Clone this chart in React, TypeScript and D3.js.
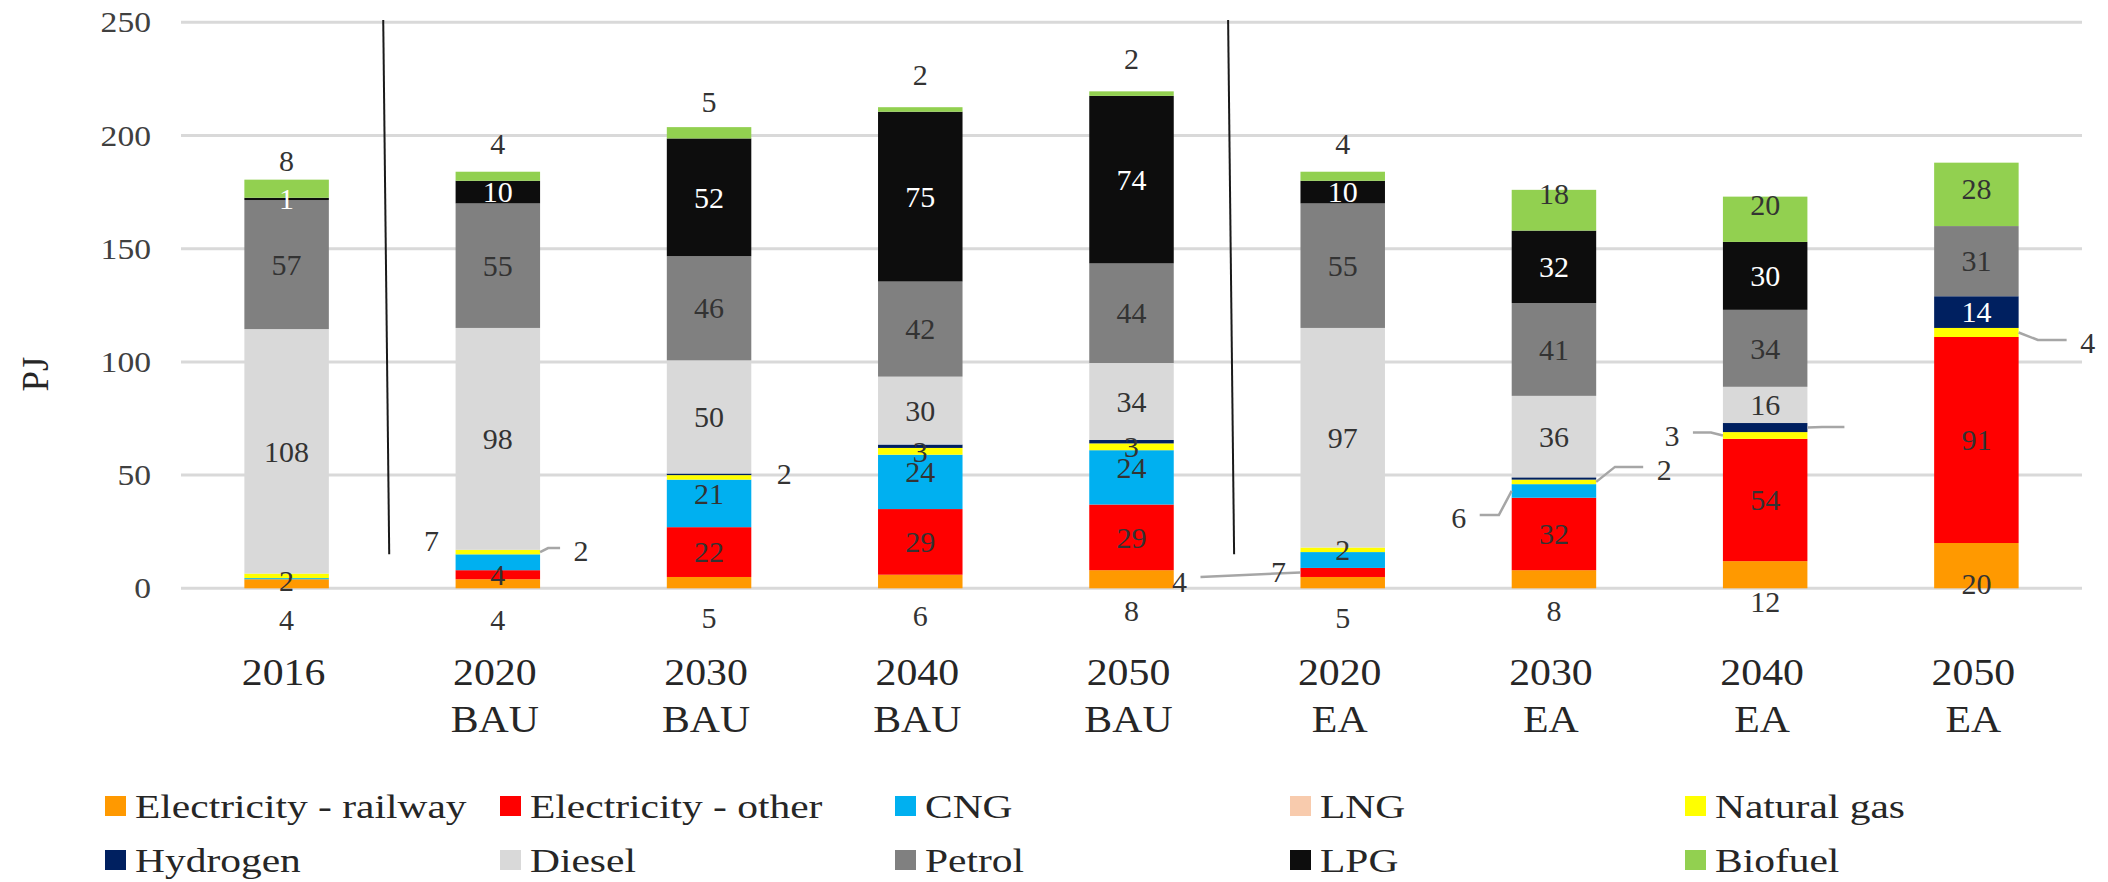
import React from "react";
import * as d3 from "d3";

// Category axis: year on the first line, scenario on the second
const years = ["2016", "2020", "2030", "2040", "2050", "2020", "2030", "2040", "2050"];
const scenarios = ["", "BAU", "BAU", "BAU", "BAU", "EA", "EA", "EA", "EA"];

// Final energy demand by carrier, PJ
const railway = [4, 4, 5, 6, 8, 5, 8, 12, 20];
const electricityOther = [0, 4, 22, 29, 29, 4, 32, 54, 91];
const cng = [0.5, 7, 21, 24, 24, 7, 6, 0, 0];
const lng = [0, 0, 0, 0, 0, 0, 0, 0, 0];
const naturalGas = [2, 2, 2, 3, 3, 2, 2, 3, 4];
const hydrogen = [0, 0, 0.7, 1.5, 1.5, 0, 1, 4, 14];
const diesel = [108, 98, 50, 30, 34, 97, 36, 16, 0];
const petrol = [57, 55, 46, 42, 44, 55, 41, 34, 31];
const lpg = [1, 10, 52, 75, 74, 10, 32, 30, 0];
const biofuel = [8, 4, 5, 2, 2, 4, 18, 20, 28];

const seriesNames = [
  "Electricity - railway",
  "Electricity - other",
  "CNG",
  "LNG",
  "Natural gas",
  "Hydrogen",
  "Diesel",
  "Petrol",
  "LPG",
  "Biofuel",
];
const seriesValues = [railway, electricityOther, cng, lng, naturalGas, hydrogen, diesel, petrol, lpg, biofuel];
const seriesColors = [
  "#FF9900",
  "#FF0000",
  "#00B0F0",
  "#F8CBAD",
  "#FFFF00",
  "#002060",
  "#D9D9D9",
  "#808080",
  "#0D0D0D",
  "#92D050",
];
const yTicks = [0, 50, 100, 150, 200, 250];

const categories = years.map((yr, i) => (scenarios[i] ? `${yr} ${scenarios[i]}` : yr));

// Labels moved off their segment (offsets in px from the bar edge / segment middle)
type Callout = {
  cat: number;
  series: string;
  side: "left" | "right" | "inside";
  dx: number;
  dy: number;
  leader: "none" | "elbow" | "straight";
};
const callouts: Callout[] = [
  { cat: 0, series: "Natural gas", side: "inside", dx: 0, dy: 5, leader: "none" },
  { cat: 1, series: "CNG", side: "left", dx: -24, dy: -21, leader: "none" },
  { cat: 1, series: "Natural gas", side: "right", dx: 41, dy: -1, leader: "elbow" },
  { cat: 2, series: "Natural gas", side: "right", dx: 33, dy: -4, leader: "none" },
  { cat: 5, series: "Electricity - other", side: "left", dx: -121, dy: 9.5, leader: "straight" },
  { cat: 5, series: "CNG", side: "left", dx: -22, dy: 12, leader: "none" },
  { cat: 6, series: "CNG", side: "left", dx: -53, dy: 27, leader: "elbow" },
  { cat: 6, series: "Natural gas", side: "right", dx: 68, dy: -12, leader: "elbow" },
  { cat: 7, series: "Natural gas", side: "left", dx: -51, dy: 0, leader: "elbow" },
  { cat: 7, series: "Hydrogen", side: "right", dx: 58, dy: 2.5, leader: "elbow" },
  { cat: 8, series: "Natural gas", side: "right", dx: 69, dy: 10.5, leader: "elbow" },
];

const W = 2108;
const H = 882;
const FONT = "'Liberation Serif', 'Times New Roman', serif";

export default function App() {
  const y = d3.scaleLinear().domain([0, 250]).range([588.3, 22.3]);
  const x = d3
    .scaleBand<string>()
    .domain(categories)
    .range([181, 2082])
    .paddingInner(0.6)
    .paddingOuter(0.3);
  const bw = x.bandwidth();

  const rows = categories.map((c, i) => {
    const r: Record<string, number | string> = { category: c };
    seriesNames.forEach((s, si) => (r[s] = seriesValues[si][i]));
    return r;
  });
  const stacked = d3.stack<Record<string, number | string>>().keys(seriesNames)(rows as any);

  const labelFont = 30;
  const labels: React.ReactNode[] = [];
  const leaders: React.ReactNode[] = [];

  stacked.forEach((layer, si) => {
    const name = seriesNames[si];
    layer.forEach((seg, ci) => {
      const v = seriesValues[si][ci];
      const show = v >= 1 && !(name === "Hydrogen" && v < 2);
      if (!show) return;
      const yLow = y(seg[0]);
      const yHigh = y(seg[1]);
      const left = x(categories[ci])!;
      const right = left + bw;
      const cx = left + bw / 2;
      const mid = (yLow + yHigh) / 2;
      let lx = cx;
      let ly = mid;
      if (name === "Electricity - railway") ly = yHigh + 41;
      else if (name === "Biofuel") ly = yLow - 37;
      else if (name === "CNG") ly = mid - 10;

      const co = callouts.find((c) => c.cat === ci && c.series === name);
      if (co) {
        ly = mid + co.dy;
        if (co.side === "inside") lx = cx + co.dx;
        else if (co.side === "left") lx = left + co.dx;
        else lx = right + co.dx;

        if (co.leader !== "none") {
          const edge = co.side === "left" ? left : right;
          const dir = co.side === "left" ? -1 : 1;
          const end = lx - dir * 21;
          const span = Math.abs(end - edge);
          let pts: [number, number][];
          if (co.leader === "straight") {
            pts = [
              [edge, mid],
              [end, ly - 5],
            ];
          } else {
            const e = Math.min(22, span * 0.4);
            pts = [
              [edge, mid],
              [edge + dir * e, ly - 3],
              [end, ly - 3],
            ];
          }
          leaders.push(
            <path
              key={`ld-${ci}-${si}`}
              d={d3.line()(pts) || ""}
              fill="none"
              stroke="#A6A6A6"
              strokeWidth={2.5}
            />
          );
        }
      }
      const white = name === "LPG" || name === "Hydrogen";
      labels.push(
        <text
          key={`lb-${ci}-${si}`}
          x={lx}
          y={ly + labelFont * 0.34}
          textAnchor="middle"
          fontFamily={FONT}
          fontSize={labelFont}
          fill={white ? "#FFFFFF" : "#333333"}
        >
          {Math.round(v)}
        </text>
      );
    });
  });

  // Scenario separators between the base year, BAU and EA groups
  const step = x.step();
  const separators = [1, 5].map((i) => {
    const bx = x(categories[i])! - (step - bw) / 2;
    return (
      <line
        key={`sep-${i}`}
        x1={bx - 9}
        y1={y(251)}
        x2={bx - 3}
        y2={y(15)}
        stroke="#1A1A1A"
        strokeWidth={2}
      />
    );
  });

  const legendCols = 5;
  const legendX0 = 105;
  const legendDX = 395;
  const legendRowY = [806, 860];

  return (
    <svg
      width={W}
      height={H}
      viewBox={`0 0 ${W} ${H}`}
      style={{ position: "absolute", left: 0, top: 0, background: "#FFFFFF" }}
    >
      <rect x={0} y={0} width={W} height={H} fill="#FFFFFF" />

      {/* gridlines */}
      {yTicks.map((t) => (
        <line key={`g-${t}`} x1={181} x2={2082} y1={y(t)} y2={y(t)} stroke="#D9D9D9" strokeWidth={3} />
      ))}

      {/* tick labels */}
      {yTicks.map((t) => (
        <text
          key={`t-${t}`}
          transform={`translate(151,${y(t) + 10}) scale(1.12,1)`}
          textAnchor="end"
          fontFamily={FONT}
          fontSize={30}
          fill="#404040"
        >
          {t}
        </text>
      ))}

      {/* axis title */}
      <text
        transform="translate(48,374) rotate(-90)"
        textAnchor="middle"
        fontFamily={FONT}
        fontSize={37}
        fill="#262626"
      >
        PJ
      </text>

      {/* stacked bars */}
      {stacked.map((layer, si) => (
        <g key={`s-${si}`} fill={seriesColors[si]}>
          {layer.map((seg, ci) =>
            seg[1] - seg[0] > 0 ? (
              <rect
                key={`r-${si}-${ci}`}
                x={x(categories[ci])}
                y={y(seg[1])}
                width={bw}
                height={y(seg[0]) - y(seg[1])}
              />
            ) : null
          )}
        </g>
      ))}

      {separators}
      {leaders}
      {labels}

      {/* category labels */}
      {categories.map((c, i) => {
        const cx = x(c)! + bw / 2 - 3;
        return (
          <g key={`c-${i}`} fontFamily={FONT} fontSize={37} fill="#262626">
            <text transform={`translate(${cx},685) scale(1.13,1)`} textAnchor="middle">
              {years[i]}
            </text>
            {scenarios[i] && (
              <text transform={`translate(${cx},732) scale(1.13,1)`} textAnchor="middle">
                {scenarios[i]}
              </text>
            )}
          </g>
        );
      })}

      {/* legend */}
      {seriesNames.map((s, i) => {
        const col = i % legendCols;
        const row = Math.floor(i / legendCols);
        const lx = legendX0 + col * legendDX;
        const cy = legendRowY[row];
        return (
          <g key={`lg-${i}`}>
            <rect x={lx} y={cy - 10} width={21} height={20} fill={seriesColors[i]} />
            <text
              transform={`translate(${lx + 30},${cy + 12}) scale(1.22,1)`}
              fontFamily={FONT}
              fontSize={34}
              fill="#262626"
            >
              {s}
            </text>
          </g>
        );
      })}
    </svg>
  );
}
